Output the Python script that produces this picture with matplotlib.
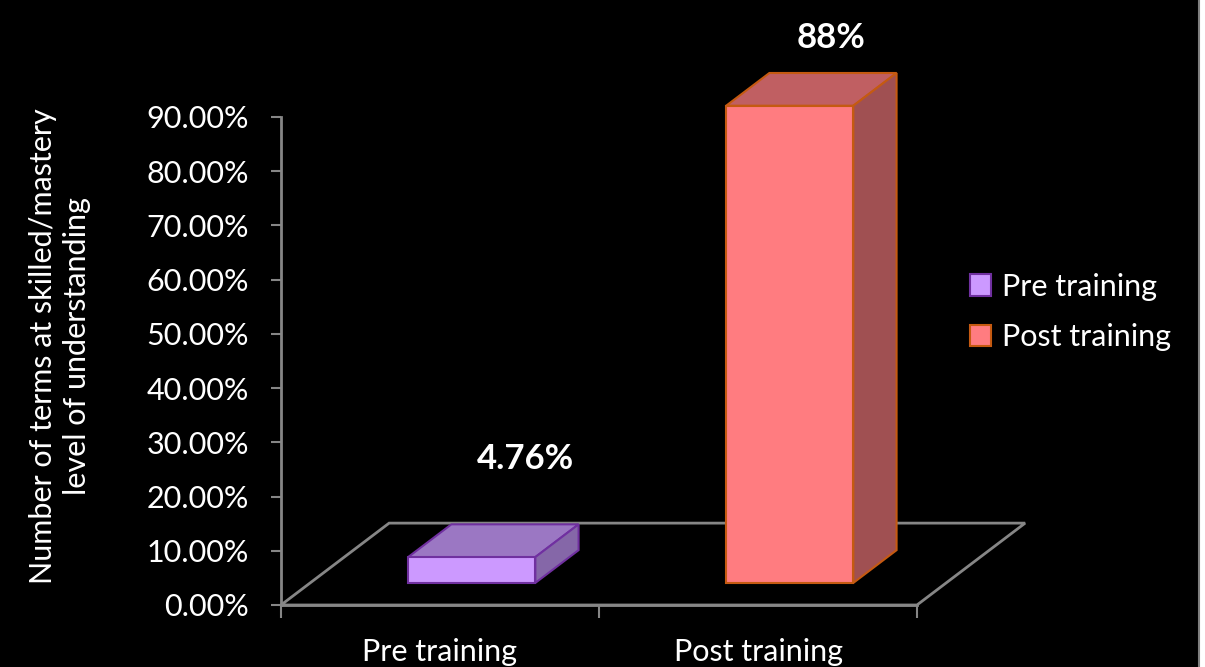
import matplotlib.pyplot as plt
from matplotlib.patches import Polygon, Rectangle
from matplotlib.ticker import FuncFormatter

categories = ['Pre training', 'Post training']
values = [4.76, 88.0]
value_labels = ['4.76%', '88%']
y_ticks = [0, 10, 20, 30, 40, 50, 60, 70, 80, 90]

front_colors = ['#CC99FF', '#FF7C80']
top_colors = ['#9B77C3', '#C05F62']
side_colors = ['#8567A8', '#A05052']
edge_colors = ['#7030A0', '#C55A11']

plt.rcParams['font.family'] = ['Lato', 'DejaVu Sans']
FS = 22

W, H = 1205, 667
fig = plt.figure(figsize=(W / 100, H / 100), dpi=100)
fig.patch.set_facecolor('black')
# white strip on the right with a grey frame line
fig.patches.append(Rectangle((1198 / W, 0), 1, 1, transform=fig.transFigure,
                             facecolor='white', edgecolor='none', zorder=-10))
fig.add_artist(plt.Line2D([1198.5 / W, 1198.5 / W], [0, 1], color='#7f7f7f', lw=1.5,
                          zorder=-5))

ax = fig.add_axes([281 / W, (H - 605) / H, (917 - 281) / W, (605 - 117) / H])
ax.set_facecolor('none')
ax.set_xlim(0, 2)
ax.set_ylim(0, 90)

grey = '#868686'
for s in ['top', 'right']:
    ax.spines[s].set_visible(False)
for s in ['left', 'bottom']:
    ax.spines[s].set_color(grey)
    ax.spines[s].set_linewidth(2)

# floor depth and bar depth (in data units)
floor_dx, floor_dy = 0.34, 15.1
d0, d1 = 0.27, 0.67
bar_w = 0.40

floor = Polygon([(0, 0), (2, 0), (2 + floor_dx, floor_dy), (floor_dx, floor_dy)],
                closed=True, facecolor='none', edgecolor=grey, lw=2, clip_on=False, zorder=1)
ax.add_patch(floor)

for i, v in enumerate(values):
    x0 = i + 0.508 - bar_w / 2 + floor_dx * d0
    x1 = x0 + bar_w
    y0 = floor_dy * d0
    y1 = y0 + v
    ddx = floor_dx * (d1 - d0)
    ddy = floor_dy * (d1 - d0)
    top = Polygon([(x0, y1), (x1, y1), (x1 + ddx, y1 + ddy), (x0 + ddx, y1 + ddy)],
                  facecolor=top_colors[i], edgecolor=edge_colors[i], lw=1.5,
                  clip_on=False, zorder=3)
    side = Polygon([(x1, y0), (x1 + ddx, y0 + ddy), (x1 + ddx, y1 + ddy), (x1, y1)],
                   facecolor=side_colors[i], edgecolor=edge_colors[i], lw=1.5,
                   clip_on=False, zorder=3)
    ax.add_patch(top)
    ax.add_patch(side)
    ax.bar(x0, v, width=bar_w, bottom=y0, align='edge', color=front_colors[i],
           edgecolor=edge_colors[i], lw=1.5, clip_on=False, zorder=4,
           label=categories[i])

# value labels
label_pos = [(0.768, 26.9), (1.73, 104.6)]
for (lx, ly), txt in zip(label_pos, value_labels):
    ax.text(lx, ly, txt, color='white', fontsize=25, fontweight='bold',
            ha='center', va='center', clip_on=False)

ax.set_yticks(y_ticks)
ax.yaxis.set_major_formatter(FuncFormatter(lambda v, p: f'{v:.2f}%'))
ax.tick_params(axis='y', colors=grey, labelcolor='white', labelsize=FS,
               length=7, width=1.5, pad=16)

ax.set_xticks([0, 1, 2])
ax.set_xticklabels([])
ax.set_xticks([0.5, 1.5], minor=True)
ax.set_xticklabels(categories, minor=True)
ax.tick_params(axis='x', which='major', colors=grey, length=9, width=1.5)
ax.tick_params(axis='x', which='minor', length=0, labelcolor='white',
               labelsize=FS, pad=24)

ax.set_ylabel('Number of terms at skilled/mastery\nlevel of understanding',
              color='white', fontsize=FS, labelpad=40, linespacing=1.25)
ax.yaxis.label.set_y(0.53)

leg = ax.legend(loc='center left', frameon=False, fontsize=FS,
                labelcolor='white', handlelength=0.7, handleheight=0.7,
                handletextpad=0.35, labelspacing=0.75, borderpad=0,
                borderaxespad=0)
leg.set_bbox_to_anchor((970 / W, (H - 312) / H), transform=fig.transFigure)

fig.savefig('out.png', dpi=100, facecolor=fig.get_facecolor())
